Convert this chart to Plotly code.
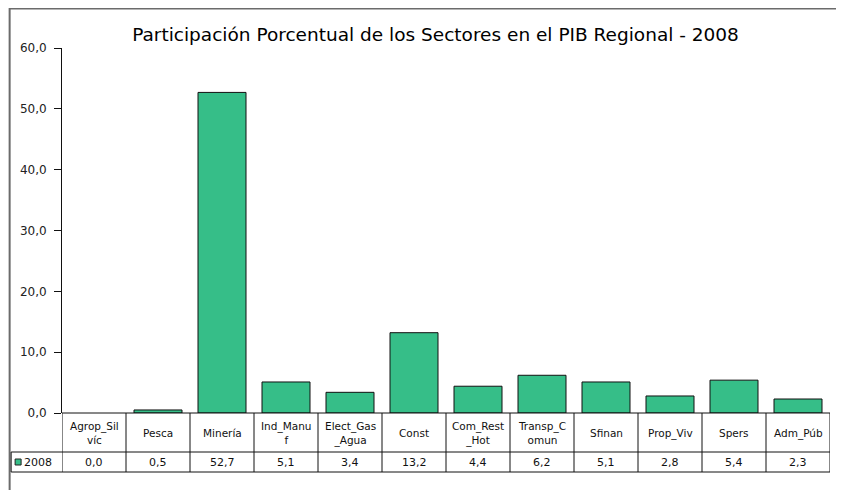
import plotly.graph_objects as go

# ---------------------------------------------------------------------------
# Data
# ---------------------------------------------------------------------------
sectores = ["Agrop_Sil<br>víc", "Pesca", "Minería", "Ind_Manu<br>f", "Elect_Gas<br>_Agua",
            "Const", "Com_Rest<br>_Hot", "Transp_C<br>omun", "Sfinan", "Prop_Viv",
            "Spers", "Adm_Púb"]
valores_2008 = [0.0, 0.5, 52.7, 5.1, 3.4, 13.2, 4.4, 6.2, 5.1, 2.8, 5.4, 2.3]
serie = "2008"
titulo = "Participación Porcentual de los Sectores en el PIB Regional - 2008"

# page body has an 8px margin, so the figure is drawn 8px smaller/offset
OFF = 8
W, H = 844 - OFF, 490 - OFF
L, R, T, B = 60, 830, 48, 413     # plot area in reference-screen pixels
BAR_COLOR = "#36be88"
FONT = "DejaVu Sans"


def px_x(px):
    return (px - L) / (R - L)


def px_y(py):
    return (B - py) / (B - T)


n = len(sectores)
xs = list(range(n))

fig = go.Figure()
fig.add_trace(go.Bar(
    x=xs, y=valores_2008, width=0.75,
    marker=dict(color=BAR_COLOR,
                line=dict(color="#111", width=[0 if v == 0 else 1 for v in valores_2008])),
    showlegend=False, hoverinfo="y",
))

# ── outer frame ──────────────────────────────────────────────────────────
fig.add_shape(type="rect", xref="paper", yref="paper",
              x0=px_x(7.5), x1=px_x(838), y0=px_y(510), y1=px_y(8.5),
              line=dict(color="#6b6b6b", width=2), fillcolor="rgba(0,0,0,0)")

# ── data table under the axis ────────────────────────────────────────────
ROW1_TOP, ROW1_BOT, ROW2_BOT = B, 452, 472
CELL_L = 9
tbl = dict(color="#111", width=1)
fig.add_shape(type="line", xref="paper", yref="paper",
              x0=0, x1=1, y0=px_y(ROW1_TOP), y1=px_y(ROW1_TOP), line=tbl)
for py in (ROW1_BOT, ROW2_BOT):
    fig.add_shape(type="line", xref="paper", yref="paper",
                  x0=px_x(CELL_L), x1=1, y0=px_y(py), y1=px_y(py), line=tbl)
for i in range(n + 1):
    fig.add_shape(type="line", xref="x", yref="paper",
                  x0=i - 0.5, x1=i - 0.5, y0=px_y(ROW1_TOP), y1=px_y(ROW2_BOT), line=tbl)
fig.add_shape(type="line", xref="paper", yref="paper",
              x0=px_x(CELL_L), x1=px_x(CELL_L), y0=px_y(ROW1_BOT), y1=px_y(ROW2_BOT), line=tbl)
# legend key
fig.add_shape(type="rect", xref="paper", yref="paper",
              x0=px_x(13), x1=px_x(19), y0=px_y(465), y1=px_y(459),
              line=dict(color="#222", width=1), fillcolor=BAR_COLOR)

for i, (lab, v) in enumerate(zip(sectores, valores_2008)):
    fig.add_annotation(x=i, y=px_y((ROW1_TOP + ROW1_BOT) / 2 + 0.5), xref="x", yref="paper",
                       xanchor="center", yanchor="middle", text=lab, showarrow=False,
                       font=dict(family=FONT, size=10.5, color="#111"))
    fig.add_annotation(x=i, y=px_y((ROW1_BOT + ROW2_BOT) / 2), xref="x", yref="paper",
                       xanchor="center", yanchor="middle",
                       text=f"{v:.1f}".replace(".", ","), showarrow=False,
                       font=dict(family=FONT, size=11, color="#111"))
fig.add_annotation(x=px_x(20), y=px_y((ROW1_BOT + ROW2_BOT) / 2), xref="paper", yref="paper",
                   xanchor="left", yanchor="middle", text=serie, showarrow=False,
                   font=dict(family=FONT, size=11, color="#111"))

fig.update_layout(
    width=W, height=H,
    margin=dict(l=L - OFF, r=W - (R - OFF), t=T - OFF, b=H - (B - OFF), pad=0),
    paper_bgcolor="white", plot_bgcolor="white",
    separators=",.",
    title=dict(text=titulo, x=px_x(434.5), xanchor="center", xref="paper",
               y=1 - (35 - OFF) / H, yanchor="middle",
               font=dict(family=FONT, size=18.5, color="#000")),
    bargap=0.25,
    xaxis=dict(range=[-0.5, n - 0.5], showticklabels=False, showgrid=False,
               zeroline=False, showline=False, fixedrange=True),
    yaxis=dict(range=[0, 60], dtick=10, tickformat=".1f", showgrid=False,
               zeroline=False, showline=True, linecolor="#111", linewidth=1,
               ticks="outside", ticklen=7, tickcolor="#111", ticklabelstandoff=5,
               tickfont=dict(family=FONT, size=12, color="#222")),
)

fig.write_html("out.html")
